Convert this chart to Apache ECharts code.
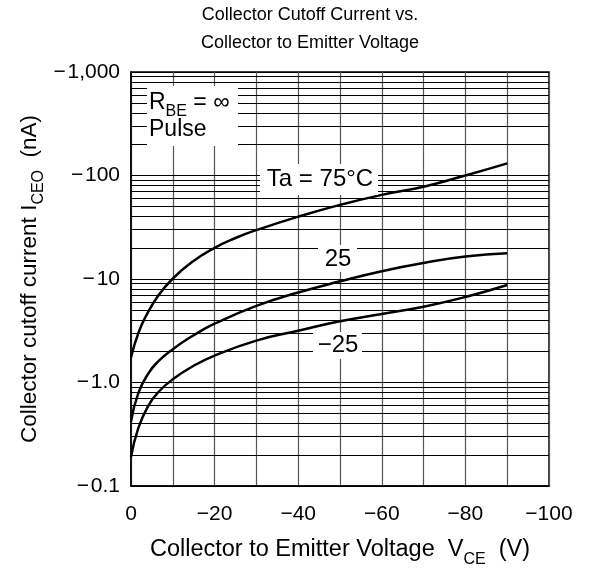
<!DOCTYPE html>
<html>
<head>
<meta charset="utf-8">
<script src="https://cdn.jsdelivr.net/npm/echarts@6/dist/echarts.min.js"></script>
<style>
html,body{margin:0;padding:0;background:#fff;}
#c{width:589px;height:570px;}
</style>
</head>
<body>
<div id="c"></div>
<script>
// ---- data ----
const vTa75 = [0, 1.75, 3.6, 6.5, 10, 14.6, 20, 25, 30, 40, 50, 60, 70, 80, 90];
const iTa75 = [1.75, 3.0, 4.4, 6.9, 10.1, 14.6, 20, 24.9, 29.7, 40, 52, 65, 78, 100, 131];
const vTa25 = [0, 1.75, 4.2, 6.5, 10, 14.6, 20, 30, 40, 50, 60, 70, 80, 90];
const iTa25 = [0.42, 0.79, 1.23, 1.6, 2.1, 2.8, 3.7, 5.5, 7.4, 9.5, 11.9, 14.3, 16.5, 17.7];
const vTaM25 = [0, 1.75, 4.2, 6.5, 10, 14.6, 20, 30, 40, 50, 60, 70, 80, 90];
const iTaM25 = [0.19, 0.362, 0.602, 0.805, 1.076, 1.42, 1.82, 2.54, 3.16, 3.9, 4.6, 5.4, 6.7, 8.75];
const hGrid = [0.2,0.3,0.4,0.5,0.6,0.7,0.8,0.9,1,2,3,4,5,6,7,8,9,10,20,30,40,50,60,70,80,90,100,200,300,400,500,600,700,800,900];
const yTickLabels = {0.1:'\u2212\u200a0.1', 1:'\u2212\u200a1.0', 10:'\u2212\u200a10', 100:'\u2212\u200a100', 1000:'\u2212\u200a1,000'};
const xTickLabels = {0:'0', 20:'\u221220', 40:'\u221240', 60:'\u221260', 80:'\u221280', 100:'\u2212100'};

const FONT = '"Liberation Sans", Arial, sans-serif';
const zip = (xs, ys) => xs.map((x, i) => [x, ys[i]]);

const chart = echarts.init(document.getElementById('c'), null, {renderer: 'canvas'});
const curveStyle = {color: '#000', width: 2.5};

chart.setOption({
  animation: false,
  backgroundColor: '#fff',
  title: {
    text: 'Collector Cutoff Current vs.\nCollector to Emitter Voltage',
    left: 305, top: -4, textAlign: 'center',
    textStyle: {fontFamily: FONT, fontSize: 18, fontWeight: 'normal', color: '#000', lineHeight: 28}
  },
  grid: {left: 131, right: 40, top: 72, bottom: 84, show: true, borderColor: '#000', borderWidth: 1.5, backgroundColor: 'transparent'},
  xAxis: {
    type: 'value', min: 0, max: 100, interval: 10,
    axisLine: {show: true, lineStyle: {color: '#000', width: 1.5}},
    axisTick: {show: false},
    splitLine: {show: true, lineStyle: {color: '#555', width: 1.2}},
    axisLabel: {fontFamily: FONT, fontSize: 21, color: '#000', margin: 18,
      formatter: v => (xTickLabels[v] !== undefined ? xTickLabels[v] : '')},
    name: ''
  },
  yAxis: {
    type: 'log', logBase: 10, min: 0.1, max: 1000,
    axisLine: {show: true, lineStyle: {color: '#000', width: 1.5}},
    axisTick: {show: false},
    splitLine: {show: true, lineStyle: {color: '#000', width: 1}},
    minorTick: {show: false}, minorSplitLine: {show: false},
    axisLabel: {fontFamily: FONT, fontSize: 21, color: '#000', margin: 11, padding: [5, 0, 0, 0],
      formatter: v => { const k = Object.keys(yTickLabels).find(t => Math.abs(+t - v) / v < 1e-6); return k ? yTickLabels[k] : ''; }},
    name: ''
  },
  series: [
    {
      type: 'line', data: [], silent: true,
      markLine: {
        silent: true, symbol: 'none', animation: false, label: {show: false},
        lineStyle: {type: 'solid', color: '#000', width: 1},
        data: hGrid.map(v => ({yAxis: v}))
      }
    },
    {type: 'line', name: '75', data: zip(vTa75, iTa75), smooth: 0.5, symbol: 'none', lineStyle: curveStyle, z: 5},
    {type: 'line', name: '25', data: zip(vTa25, iTa25), smooth: 0.5, symbol: 'none', lineStyle: curveStyle, z: 5},
    {type: 'line', name: '-25', data: zip(vTaM25, iTaM25), smooth: 0.5, symbol: 'none', lineStyle: curveStyle, z: 5}
  ],
  graphic: [
    {type: 'text', x: 340, y: 549, z: 101, style: {
      text: '{a|Collector to Emitter Voltage  V}{s|CE}{a|  (V)}', align: 'center', verticalAlign: 'middle',
      rich: {a: {fontFamily: FONT, fontSize: 23.5, fill: '#000', lineHeight: 26, verticalAlign: 'bottom'},
             s: {fontFamily: FONT, fontSize: 16, fill: '#000', lineHeight: 26, verticalAlign: 'bottom', padding: [0, 0, -6, 0]}}
    }},
    {type: 'text', x: 28, y: 279, rotation: Math.PI / 2, z: 101, style: {
      text: '{a|Collector cutoff current I}{s|CEO}{a|  (nA)}', align: 'center', verticalAlign: 'middle',
      rich: {a: {fontFamily: FONT, fontSize: 22.5, fill: '#000', lineHeight: 26, verticalAlign: 'bottom'},
             s: {fontFamily: FONT, fontSize: 16, fill: '#000', lineHeight: 26, verticalAlign: 'bottom', padding: [0, 0, -6, 0]}}
    }},
    {type: 'rect', shape: {x: 147, y: 86, width: 91, height: 60}, style: {fill: '#fff'}, z: 100},
    {type: 'text', x: 149, y: 101, z: 101, style: {
      text: '{a|R}{s|BE}{a| = \u221e}', verticalAlign: 'middle',
      rich: {a: {fontFamily: FONT, fontSize: 23, fill: '#000', lineHeight: 26, verticalAlign: 'bottom'},
             s: {fontFamily: FONT, fontSize: 16, fill: '#000', lineHeight: 26, verticalAlign: 'bottom', padding: [0, 0, -6, 0]}}
    }},
    {type: 'text', x: 149, y: 130, z: 101, style: {text: 'Pulse', font: '23px ' + FONT, fill: '#000', verticalAlign: 'middle'}},
    {type: 'rect', shape: {x: 260, y: 164, width: 118, height: 31}, style: {fill: '#fff'}, z: 100},
    {type: 'text', x: 320, y: 179, z: 101, style: {text: 'Ta = 75\u00b0C', font: '24px ' + FONT, fill: '#000', align: 'center', verticalAlign: 'middle'}},
    {type: 'rect', shape: {x: 318, y: 245, width: 39, height: 27}, style: {fill: '#fff'}, z: 100},
    {type: 'text', x: 338, y: 259, z: 101, style: {text: '25', font: '24px ' + FONT, fill: '#000', align: 'center', verticalAlign: 'middle'}},
    {type: 'rect', shape: {x: 313, y: 332, width: 49, height: 27}, style: {fill: '#fff'}, z: 100},
    {type: 'text', x: 338, y: 345, z: 101, style: {text: '\u221225', font: '24px ' + FONT, fill: '#000', align: 'center', verticalAlign: 'middle'}}
  ]
});
</script>
</body>
</html>
